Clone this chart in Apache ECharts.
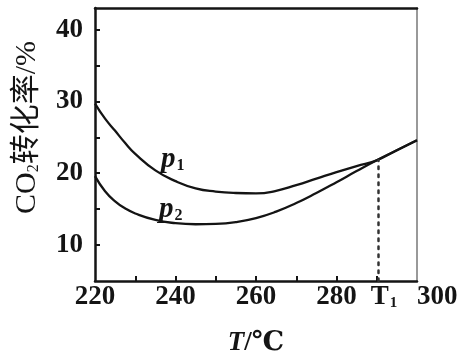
<!DOCTYPE html>
<html>
<head>
<meta charset="utf-8">
<script src="https://cdn.jsdelivr.net/npm/echarts@6/dist/echarts.min.js"></script>
<style>
html,body{margin:0;padding:0;background:#fff;}
#chart{width:467px;height:362px;}
</style>
</head>
<body>
<div id="chart"></div>
<script>
// ---- data ----
const temps = [220, 222.5, 225, 227.5, 230, 235, 240, 245, 250, 255, 260, 265, 270, 275, 280, 285, 290, 295, 300];
const p1 = [29.7, 27.6, 25.9, 24.2, 22.7, 20.4, 18.9, 17.9, 17.45, 17.25, 17.2, 17.55, 18.35, 19.25, 20.15, 21.0, 21.8, 23.2, 24.6];
const p2 = [19.6, 17.5, 16.1, 15.1, 14.4, 13.5, 13.05, 12.9, 12.95, 13.2, 13.75, 14.65, 15.85, 17.25, 18.75, 20.3, 21.8, 23.2, 24.6];
const T1 = 290.3;
const T1Value = 21.8;
const xLabelValues = [220, 240, 260, 280, T1, 300];
const xTickValues = [230, 240, 250, 260, 270, 280, 290];
const yLabelValues = [10, 20, 30, 40];
const yTickValues = [10, 15, 20, 25, 30, 35, 40];
const seriesNames = ['p1', 'p2'];
const labelPos = { p1: [239.3, 21.9], p2: [238.8, 14.9] };

const serif = '"Liberation Serif", "Times New Roman", "DejaVu Serif", "Noto Sans CJK SC", serif';
const ink = '#141414';

const chart = echarts.init(document.getElementById('chart'), null, { renderer: 'canvas' });

function curveLabel(name, pos) {
  return {
    coord: pos,
    symbol: 'circle',
    symbolSize: 0,
    label: {
      show: true,
      position: 'inside',
      formatter: '{i|p}{s|' + name.slice(1) + '}',
      rich: {
        i: { fontFamily: serif, fontStyle: 'italic', fontWeight: 'bold', fontSize: 29, color: ink, lineHeight: 30 },
        s: { fontFamily: serif, fontSize: 16, fontWeight: 'bold', color: ink, padding: [12, 0, 0, 1] }
      }
    }
  };
}

const option = {
  animation: false,
  backgroundColor: '#fff',
  grid: { left: 95, right: 50, top: 8, bottom: 76, show: false },
  xAxis: [{
    type: 'value',
    min: 220,
    max: 300,
    position: 'bottom',
    name: '{i|T}{n|/℃}',
    nameLocation: 'middle',
    nameGap: 49,
    nameTextStyle: {
      rich: {
        i: { fontFamily: serif, fontStyle: 'italic', fontWeight: 'bold', fontSize: 27, color: ink },
        n: { fontFamily: serif, fontWeight: 'bold', fontSize: 27, color: ink }
      }
    },
    axisLine: { show: true, lineStyle: { color: ink, width: 2.5 } },
    axisTick: { show: true, inside: true, length: 5, customValues: xTickValues, lineStyle: { color: ink, width: 2 } },
    axisLabel: {
      customValues: xLabelValues,
      alignMaxLabel: 'left',
      margin: 3,
      fontFamily: serif,
      fontWeight: 'bold',
      fontSize: 27,
      color: ink,
      formatter: function (v) {
        if (Math.abs(v - T1) < 1e-6) return '{t|T}{s|1}';
        return String(v);
      },
      rich: {
        t: { fontFamily: serif, fontWeight: 'bold', fontSize: 27, color: ink, padding: [0, 0, 0, 12] },
        s: { fontFamily: serif, fontWeight: 'bold', fontSize: 15, color: ink, padding: [12, 0, 0, 1] }
      }
    },
    splitLine: { show: false }
  }, {
    type: 'value',
    min: 220,
    max: 300,
    position: 'top',
    axisLine: { show: true, lineStyle: { color: ink, width: 2.5 } },
    axisTick: { show: false },
    axisLabel: { show: false },
    splitLine: { show: false }
  }],
  yAxis: [{
    type: 'value',
    min: 5,
    max: 43,
    position: 'left',
    name: '{a|CO}{s|2}{a|转化率/%}',
    nameLocation: 'middle',
    nameGap: 53,
    nameRotate: 90,
    nameTextStyle: {
      padding: [0, 0, 0, 34],
      rich: {
        a: { fontFamily: serif, fontSize: 30, color: ink },
        s: { fontFamily: serif, fontSize: 16, color: ink, padding: [13, 0, 0, 0] }
      }
    },
    axisLine: { show: true, lineStyle: { color: ink, width: 2.5 } },
    axisTick: { show: true, inside: true, length: 5, customValues: yTickValues, lineStyle: { color: ink, width: 2 } },
    axisLabel: {
      customValues: yLabelValues,
      margin: 12,
      fontFamily: serif,
      fontWeight: 'bold',
      fontSize: 27,
      color: ink
    },
    splitLine: { show: false }
  }, {
    type: 'value',
    min: 5,
    max: 43,
    position: 'right',
    axisLine: { show: true, lineStyle: { color: '#777', width: 1.5 } },
    axisTick: { show: false },
    axisLabel: { show: false },
    splitLine: { show: false }
  }],
  series: [
    {
      name: seriesNames[0],
      type: 'line',
      smooth: 0.5,
      showSymbol: false,
      data: temps.map((t, i) => [t, p1[i]]),
      lineStyle: { color: ink, width: 2.3 },
      markPoint: { silent: true, data: [curveLabel(seriesNames[0], labelPos.p1)] },
      markLine: {
        silent: true,
        symbol: ['none', 'none'],
        label: { show: false },
        lineStyle: { color: '#333', width: 2.5, type: [2.5, 5.5], cap: 'round' },
        data: [[{ coord: [T1, 5] }, { coord: [T1, T1Value] }]]
      },
      z: 3
    },
    {
      name: seriesNames[1],
      type: 'line',
      smooth: 0.5,
      showSymbol: false,
      data: temps.map((t, i) => [t, p2[i]]),
      lineStyle: { color: ink, width: 2.3 },
      markPoint: { silent: true, data: [curveLabel(seriesNames[1], labelPos.p2)] },
      z: 3
    }
  ]
};

chart.setOption(option);
</script>
</body>
</html>
